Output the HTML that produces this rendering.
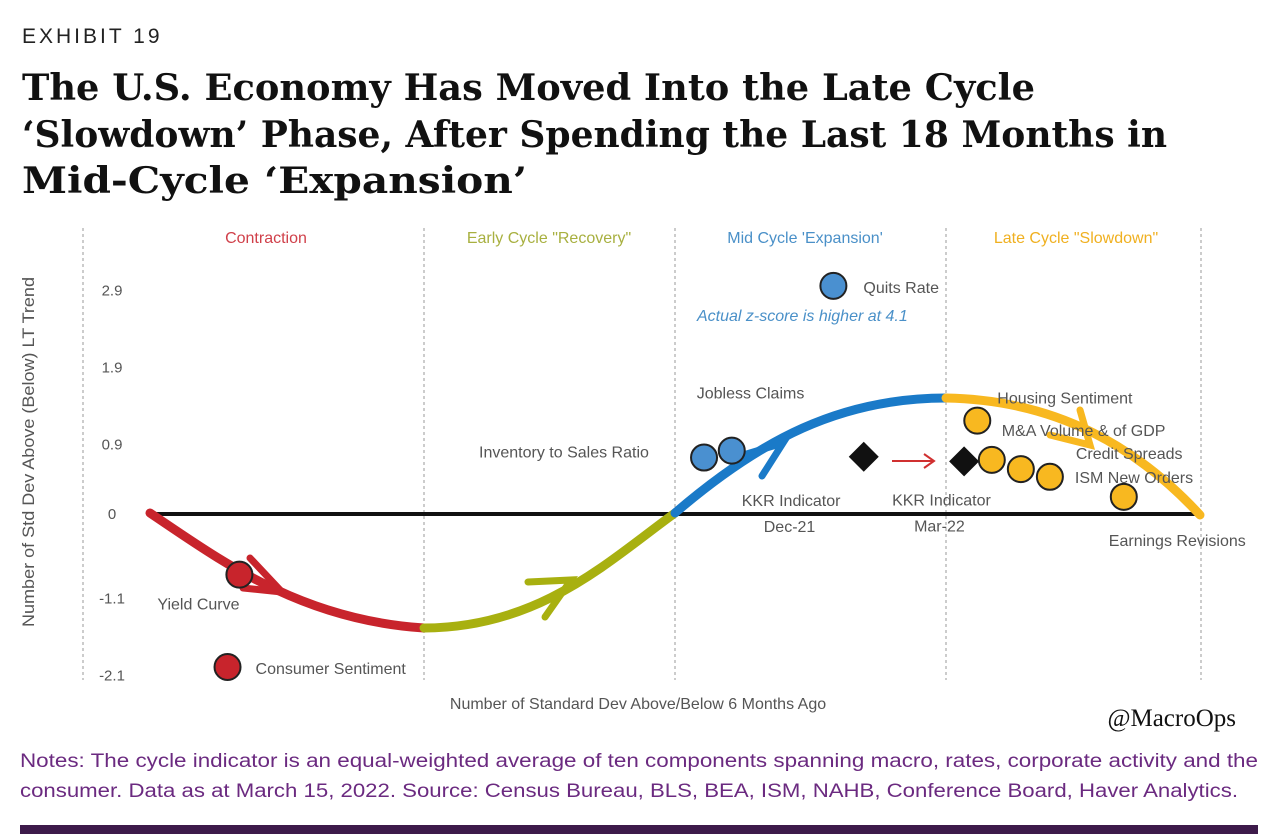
<!DOCTYPE html>
<html><head><meta charset="utf-8"><style>
html,body{margin:0;padding:0;background:#fff}
svg{display:block}
text{font-family:"Liberation Sans",sans-serif}
</style></head><body>
<svg id="chart" width="1276" height="838" viewBox="0 0 1276 838" xmlns="http://www.w3.org/2000/svg">
<text x="22" y="43" font-size="21" letter-spacing="3" fill="#222">EXHIBIT 19</text>
<g font-family="'DejaVu Serif',serif" font-weight="bold" font-size="36" fill="#111">
<text x="22" y="100" textLength="1013" lengthAdjust="spacingAndGlyphs" style="font-family:'DejaVu Serif',serif">The U.S. Economy Has Moved Into the Late Cycle</text>
<text x="22" y="147" textLength="1145" lengthAdjust="spacingAndGlyphs" style="font-family:'DejaVu Serif',serif">‘Slowdown’ Phase, After Spending the Last 18 Months in</text>
<text x="22" y="193" textLength="505" lengthAdjust="spacingAndGlyphs" style="font-family:'DejaVu Serif',serif">Mid-Cycle ‘Expansion’</text>
</g>
<g id="phase-lines" stroke="#999" stroke-dasharray="3,3" stroke-width="1">
<line x1="83" y1="228" x2="83" y2="680"/><line x1="424" y1="228" x2="424" y2="680"/><line x1="675" y1="228" x2="675" y2="680"/><line x1="946" y1="228" x2="946" y2="680"/><line x1="1201" y1="228" x2="1201" y2="680"/>
</g>
<g font-size="16">
<text x="266" y="243" text-anchor="middle" fill="#d0404a">Contraction</text>
<text x="549" y="243" text-anchor="middle" fill="#a8b040">Early Cycle "Recovery"</text>
<text x="805" y="243" text-anchor="middle" fill="#4a90c8">Mid Cycle 'Expansion'</text>
<text x="1076" y="243" text-anchor="middle" fill="#f0b020">Late Cycle "Slowdown"</text>
</g>
<text transform="translate(34,452) rotate(-90)" text-anchor="middle" font-size="17" fill="#555" textLength="350" lengthAdjust="spacingAndGlyphs">Number of Std Dev Above (Below) LT Trend</text>
<text x="638" y="709" text-anchor="middle" font-size="16" fill="#555">Number of Standard Dev Above/Below 6 Months Ago</text>
<g id="yticks"></g>
<line x1="150" y1="514" x2="1200" y2="514" stroke="#111" stroke-width="4"/>
<g fill="none" stroke-width="9" stroke-linecap="round">
<path d="M150,513 C220,560 300,620 424,628" stroke="#c8242c"/>
<path d="M250,558 L282,592 L243,588" stroke="#c8242c" stroke-width="7"/>
<path d="M424,628 C540,628 610,560 675,513" stroke="#a8b010"/>
<path d="M528,582 L571,580 L545,617" stroke="#a8b010" stroke-width="7"/>
<path d="M675,513 C760,440 840,398 946,398" stroke="#1a7ac8"/>
<path d="M740,456 L783,443 L762,476" stroke="#1a7ac8" stroke-width="7"/>
<path d="M946,398 C1060,400 1140,450 1200,515" stroke="#f8b820"/>
<path d="M1050,435 L1090,445 L1080,410" stroke="#f8b820" stroke-width="7"/>
</g>
<path d="M892,461 L934,461 M924,454 L934,461 L924,468" stroke="#d03030" stroke-width="2" fill="none"/>
<g id="marks"></g>
<text x="697" y="321" font-size="16" font-style="italic" fill="#4a90c8">Actual z-score is higher at 4.1</text>
<text x="1236" y="726" text-anchor="end" font-family="'Liberation Serif',serif" font-size="25" fill="#111" style="font-family:'Liberation Serif',serif">@MacroOps</text>
<g font-size="19" fill="#6b2a80">
<text x="20" y="767" textLength="1238" lengthAdjust="spacingAndGlyphs">Notes: The cycle indicator is an equal-weighted average of ten components spanning macro, rates, corporate activity and the</text>
<text x="20" y="797" textLength="1218" lengthAdjust="spacingAndGlyphs">consumer. Data as at March 15, 2022. Source: Census Bureau, BLS, BEA, ISM, NAHB, Conference Board, Haver Analytics.</text>
</g>
<rect x="20" y="825" width="1238" height="9" fill="#3d1a4a"/>
</svg>
<script>
const yTicks=[2.9,1.9,0.9,0,-1.1,-2.1];
const names=["Yield Curve","Consumer Sentiment","Inventory to Sales Ratio","Jobless Claims","Quits Rate","KKR Indicator Dec-21","KKR Indicator Mar-22","Housing Sentiment","M&A Volume & of GDP","Credit Spreads","ISM New Orders","Earnings Revisions"];
const xVals=[-3.3,-3.39,0.22,0.43,1.2,1.43,2.19,2.29,2.4,2.62,2.84,3.4];
const yVals=[-0.8,-2.0,0.72,0.81,2.95,0.73,0.67,1.2,0.69,0.57,0.47,0.21];
const kinds=["red","red","blue","blue","blue","kkr","kkr","gold","gold","gold","gold","gold"];
const labelDx=[-82,28,-225,-35,30,-122,-72,20,10,55,25,-15];
const labelDy=[35,7,0,-52,7,49,44,-17,-24,-10,6,49];
const labelLines=[["Yield Curve"],["Consumer Sentiment"],["Inventory to Sales Ratio"],["Jobless Claims"],["Quits Rate"],["KKR Indicator","Dec-21"],["KKR Indicator","Mar-22"],["Housing Sentiment"],["M&A Volume & of GDP"],["Credit Spreads"],["ISM New Orders"],["Earnings Revisions"]];
const xS=v=>675+v*132;
const yS=v=>513-v*77;
const NS="http://www.w3.org/2000/svg";
const yt=document.getElementById('yticks');
yTicks.forEach(t=>{const e=document.createElementNS(NS,'text');


e.setAttribute('x',112);e.setAttribute('y',yS(t)+6);e.setAttribute('text-anchor','middle');e.setAttribute('font-size','15');e.setAttribute('fill','#555');e.textContent=String(t);yt.appendChild(e);});
const cols={red:"#c8242c",blue:"#4a90d0",gold:"#f8b820"};
const mk=document.getElementById('marks');
names.forEach((n,i)=>{const cx=xS(xVals[i]),cy=yS(yVals[i]);let e;
if(kinds[i]==="kkr"){e=document.createElementNS(NS,'polygon');e.setAttribute('points',`${cx},${cy-15} ${cx+15},${cy} ${cx},${cy+15} ${cx-15},${cy}`);e.setAttribute('fill','#111');}
else{e=document.createElementNS(NS,'circle');e.setAttribute('cx',cx);e.setAttribute('cy',cy);e.setAttribute('r',13);e.setAttribute('fill',cols[kinds[i]]);e.setAttribute('stroke','#222');e.setAttribute('stroke-width','2');}


mk.appendChild(e);
labelLines[i].forEach((ln,j)=>{const t=document.createElementNS(NS,'text');


t.setAttribute('x',cx+labelDx[i]+(j>0?22:0));t.setAttribute('y',cy+labelDy[i]+j*26);t.setAttribute('font-size','16');t.setAttribute('fill','#555');t.textContent=ln;mk.appendChild(t);});
});
</script>
</body></html>
